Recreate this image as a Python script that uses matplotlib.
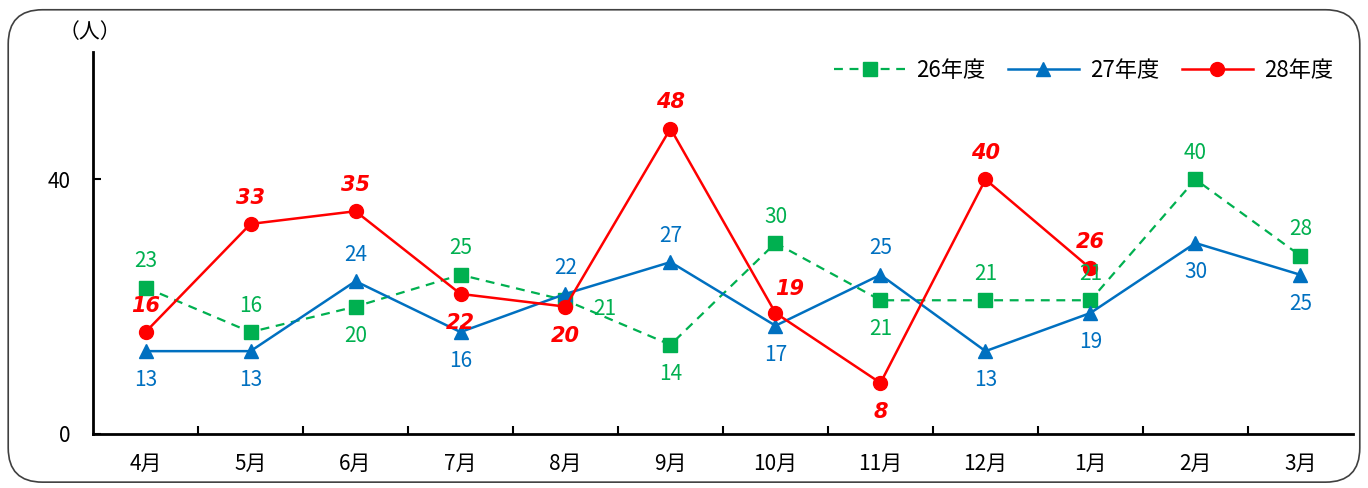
import matplotlib.pyplot as plt
from matplotlib.patches import FancyBboxPatch

plt.rcParams['font.family'] = ['Noto Sans CJK JP', 'DejaVu Sans']

months = ['4月', '5月', '6月', '7月', '8月', '9月', '10月', '11月', '12月', '1月', '2月', '3月']
fy26 = [23, 16, 20, 25, 21, 14, 30, 21, 21, 21, 40, 28]
fy27 = [13, 13, 24, 16, 22, 27, 17, 25, 13, 19, 30, 25]
fy28 = [16, 33, 35, 22, 20, 48, 19, 8, 40, 26]

# where each data label sits: a=above, b=below, r=right
pos26 = ['a', 'a', 'b', 'a', 'r', 'b', 'a', 'b', 'a', 'a', 'a', 'a']
pos27 = ['b', 'b', 'a', 'b', 'a', 'a', 'b', 'a', 'b', 'b', 'b', 'b']
pos28 = ['a', 'a', 'a', 'b', 'b', 'a', 'ar', 'b', 'a', 'a']

green = '#00B050'
blue = '#0070C0'
red = '#FF0000'

fig = plt.figure(figsize=(13.68, 4.88), dpi=100)
fig.patches.append(FancyBboxPatch((0.006, 0.012), 0.988, 0.968,
                                  boxstyle='round,pad=0,rounding_size=0.025',
                                  transform=fig.transFigure, fill=False,
                                  edgecolor='#404040', linewidth=1.2,
                                  mutation_aspect=1368 / 488))
ax = fig.add_axes([0.068, 0.111, 0.921, 0.782])

x = list(range(len(months)))
ax.plot(x, fy26, color=green, linestyle='--', linewidth=1.6, marker='s',
        markersize=10, label='26年度', dashes=(4, 3))
ax.plot(x, fy27, color=blue, linewidth=1.8, marker='^', markersize=10,
        label='27年度')
ax.plot(x[:len(fy28)], fy28, color=red, linewidth=1.8, marker='o',
        markersize=10, label='28年度')

offsets = {'a': (0, 19), 'b': (0, -21), 'r': (28, -6), 'ar': (10, 17)}


def put_labels(vals, poss, color, **kw):
    for i, (v, p) in enumerate(zip(vals, poss)):
        ax.annotate(str(v), (i, v), xytext=offsets[p], textcoords='offset points',
                    ha='center', va='center', color=color, fontsize=15, **kw)


put_labels(fy26, pos26, green)
put_labels(fy27, pos27, blue)
put_labels(fy28, pos28, red, fontweight='bold', fontstyle='italic',
           family=['DejaVu Sans'])

ax.set_xlim(-0.5, 11.5)
ax.set_ylim(0, 60)
ax.set_yticks([0, 40])
ax.set_xticks([i + 0.5 for i in range(11)])
ax.set_xticklabels([])
ax.set_xticks(x, minor=True)
ax.set_xticklabels(months, minor=True, fontsize=15)
ax.tick_params(axis='x', which='minor', length=0, pad=14)
ax.tick_params(axis='x', which='major', direction='in', length=6, width=1.5)
ax.tick_params(axis='y', direction='in', length=6, width=1.5, labelsize=15, pad=16)
ax.spines['top'].set_visible(False)
ax.spines['right'].set_visible(False)
ax.spines['left'].set_linewidth(2)
ax.spines['bottom'].set_linewidth(2)
ax.patch.set_alpha(0)

fig.text(0.066, 0.935, '（人）', ha='center', va='center', fontsize=15)

ax.legend(loc='upper right', bbox_to_anchor=(1.0, 1.035), ncol=3, frameon=False,
          fontsize=16, handlelength=3.2, columnspacing=1.0, handletextpad=0.5)

fig.savefig('out.png', dpi=100)
